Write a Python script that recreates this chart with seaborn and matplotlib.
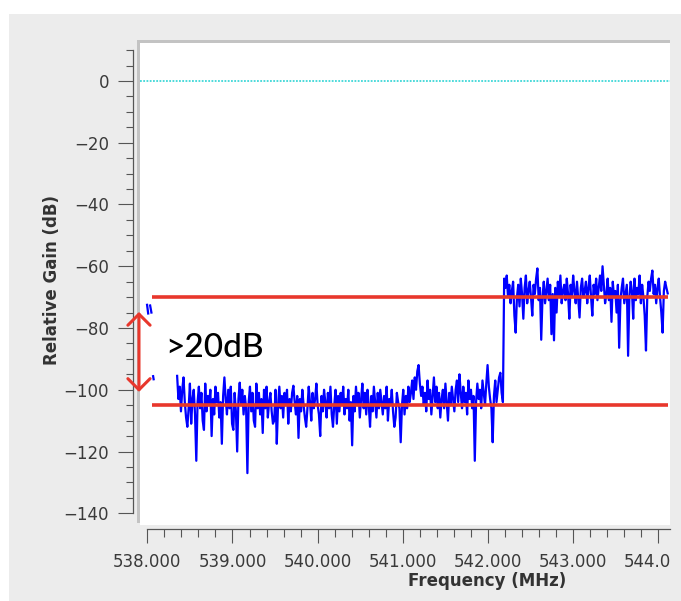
import numpy as np
import pandas as pd
import matplotlib
matplotlib.use("Agg")
import matplotlib.pyplot as plt
import seaborn as sns
from matplotlib.patches import Rectangle
from matplotlib.ticker import MultipleLocator, FormatStrFormatter

# ---------------- data ----------------
edge_freq_a = [537.997, 538.010]
edge_gain_a = [-72.5, -75.3]
edge_freq_b = [538.033, 538.048]
edge_gain_b = [-72.7, -75.0]
dot_freq = [538.068, 538.074]
dot_gain = [-95.6, -96.6]

step_mhz = 0.015
low_start = 538.35
low_gain = [
    -95.5, -103, -99, -107, -100, -96, -104, -109, -112, -106, -98, -111, -103, -100, -108, -123,
    -104, -99, -106, -101, -110, -113, -98, -107, -102, -105, -100, -115, -103, -108, -99, -104,
    -101, -109, -104, -117.5, -102, -96, -103, -108, -100, -106, -99, -111, -113, -101, -107, -120,
    -103, -97.7, -105, -100, -108, -102, -106, -127, -104, -99, -107, -101, -110, -112, -98, -106,
    -101, -108, -103, -114, -100, -106, -99, -109, -104, -101, -107, -111, -110, -100, -117.5, -105,
    -99, -106, -102, -109, -101, -105, -100, -111, -103, -107, -101, -98.7, -104, -108, -102, -115.6,
    -103, -107, -100, -105, -109, -112, -106, -99, -104, -110, -101, -106, -103, -98, -105, -108,
    -115, -102, -107, -100, -104, -109, -101, -106, -99, -108, -112, -105, -100, -111, -102, -107,
    -101, -105, -99, -108, -103, -106, -100, -110, -104, -118, -102, -107, -99, -105, -101, -109,
    -103, -98, -106, -101, -108, -100, -105, -112, -102, -107, -99, -104, -109, -101, -106, -100,
    -104, -108, -102, -106, -99, -110, -103, -105, -100, -107, -112, -109, -101, -104, -106, -117,
    -105, -100, -108, -102, -106, -99, -104, -101, -97, -103, -96, -100, -94, -92, -98, -102,
    -99, -105, -101, -107, -97, -103, -100, -108, -102, -96, -104, -99, -106, -101, -109, -103,
    -100, -106, -98, -104, -110, -101, -105, -99, -103, -107, -100, -97, -104, -95, -101, -106,
    -99, -104, -101, -108, -97, -103, -100, -106, -102, -123, -104, -98, -103, -100, -106, -97,
    -101, -105, -98, -92, -99, -103, -106, -117, -102, -97, -104, -100, -96, -94.5, -101, -104,
]
high_start = 542.19
high_gain = [
    -64, -67, -63, -70, -66, -72, -68, -65, -76, -81.5, -70, -66, -73, -64, -69, -77,
    -67, -63, -72, -68, -65, -70, -76, -66, -69, -64, -60.7, -71, -67, -83.8, -70, -65,
    -72, -68, -64, -71, -66, -82, -69, -84, -67, -75, -65, -70, -63, -72, -68, -66,
    -71, -64, -69, -77, -66, -70, -63, -68, -72, -65, -71, -76.6, -67, -64, -70, -68,
    -65, -72, -67, -63, -70, -76, -66, -69, -64, -71, -67, -63, -68, -60, -66, -72,
    -69, -64, -71, -67, -78, -65, -70, -68, -75, -66, -86.4, -71, -67, -64, -72, -69,
    -66, -89, -70, -65, -68, -77, -64, -71, -67, -69, -63, -72, -66, -70, -76, -87.3,
    -70, -65, -68, -64, -61.4, -69, -66, -72, -67, -64, -70, -75, -81.5, -68, -65, -67,
    -68.8,
]

ref_levels = [-70.1, -104.9]
ref_start, ref_end = 538.056, 544.11
arrow_freq = 537.902
arrow_top, arrow_bottom = -74.8, -100.7
annot_text = ">20dB"
annot_pos = (538.208, -89.4)

x_ticks = [538, 539, 540, 541, 542, 543, 544]
y_ticks = [-140, -120, -100, -80, -60, -40, -20, 0]

# ---------------- build frame ----------------
low_freq = low_start + step_mhz * np.arange(len(low_gain))
high_freq = high_start + step_mhz * np.arange(len(high_gain))
main_freq = np.concatenate([low_freq, high_freq])
main_gain = np.concatenate([low_gain, high_gain])

df = pd.concat([
    pd.DataFrame({"freq": edge_freq_a, "gain": edge_gain_a, "seg": "a"}),
    pd.DataFrame({"freq": edge_freq_b, "gain": edge_gain_b, "seg": "b"}),
    pd.DataFrame({"freq": dot_freq, "gain": dot_gain, "seg": "dot"}),
    pd.DataFrame({"freq": main_freq, "gain": main_gain, "seg": "main"}),
], ignore_index=True)

# ---------------- figure ----------------
W, H = 681, 601
fig = plt.figure(figsize=(W / 100, H / 100), dpi=100)
fig.patch.set_facecolor("white")
BG = "#ececec"
fig.add_artist(Rectangle((9 / W, 0), 1, (H - 14) / H, transform=fig.transFigure,
                         facecolor=BG, edgecolor="none", zorder=-10))

L, R, T, B = 140, 670, 43, 525
ax = fig.add_axes([L / W, (H - B) / H, (R - L) / W, (B - T) / H])
ax.set_facecolor("white")

# gray frame on left and top
BORDER = "#c3c3c3"
fig.add_artist(Rectangle((137 / W, (H - 523) / H), 3 / W, (523 - 40) / H,
                         transform=fig.transFigure, facecolor=BORDER,
                         edgecolor="none", zorder=-5))
fig.add_artist(Rectangle((137 / W, (H - 43) / H), (R - 137) / W, 3 / H,
                         transform=fig.transFigure, facecolor=BORDER,
                         edgecolor="none", zorder=-5))

ax.axhline(0, color="#3fd8d8", lw=1.3, ls=(0, (1, 0.8)), zorder=1)

sns.lineplot(data=df, x="freq", y="gain", units="seg", estimator=None, sort=False,
             color="#0000ff", lw=1.6, ax=ax, legend=False, zorder=2)

RED = "#e8372c"
ax.hlines(ref_levels, ref_start, ref_end, color=RED, lw=2.6, zorder=3)
ax.annotate("", xy=(arrow_freq, arrow_top), xytext=(arrow_freq, arrow_bottom),
            arrowprops=dict(arrowstyle="<->,head_length=0.8,head_width=0.8",
                            color=RED, lw=2.2, shrinkA=0, shrinkB=0,
                            mutation_scale=10),
            annotation_clip=False, zorder=4)
ax.text(annot_pos[0], annot_pos[1], annot_text, fontsize=24, family="Lato",
        fontweight=500, color="black", ha="left", va="baseline", zorder=5)

ax.set_xlim(537.914, 544.137)
ax.set_ylim(-143.8, 12.3)

for s in ["top", "right"]:
    ax.spines[s].set_visible(False)
SP = "#555555"
ax.spines["left"].set_position(("outward", 5.3))
ax.spines["left"].set_bounds(-140, 10)
ax.spines["bottom"].set_position(("outward", 2.9))
ax.spines["bottom"].set_bounds(538, 544.137)
for s in ["left", "bottom"]:
    ax.spines[s].set_color(SP)
    ax.spines[s].set_linewidth(0.9)

ax.set_xticks(x_ticks)
ax.xaxis.set_major_formatter(FormatStrFormatter("%.3f"))
ax.xaxis.set_minor_locator(MultipleLocator(0.2))
ax.set_yticks(y_ticks)
ax.yaxis.set_minor_locator(MultipleLocator(5))

TC = "#3a3a3a"
ax.tick_params(axis="x", which="major", direction="out", length=10.3, width=0.8,
               color=SP, pad=7, labelsize=12, labelcolor=TC)
ax.tick_params(axis="x", which="minor", direction="out", length=5.6, width=0.8, color=SP)
ax.tick_params(axis="y", which="major", direction="out", length=10.5, width=0.8,
               color=SP, pad=6.5, labelsize=12, labelcolor=TC)
ax.tick_params(axis="y", which="minor", direction="out", length=4.9, width=0.8, color=SP)

ax.set_xlabel("")
ax.set_ylabel("")
fig.text(487 / W, 1 - 581 / H, "Frequency (MHz)", ha="center", va="center",
         fontsize=12, fontweight="bold", color="#333333")
fig.text(52 / W, 1 - 280 / H, "Relative Gain (dB)", ha="center", va="center",
         rotation=90, fontsize=12, fontweight="bold", color="#333333")

# clip the last tick label at the plot's right edge, as in the reference
fig.add_artist(Rectangle((R / W, 0), (W - R) / W, (H - 533) / H,
                         transform=fig.transFigure, facecolor=BG,
                         edgecolor="none", zorder=10))

fig.savefig("out.png", dpi=100, facecolor=fig.get_facecolor())
